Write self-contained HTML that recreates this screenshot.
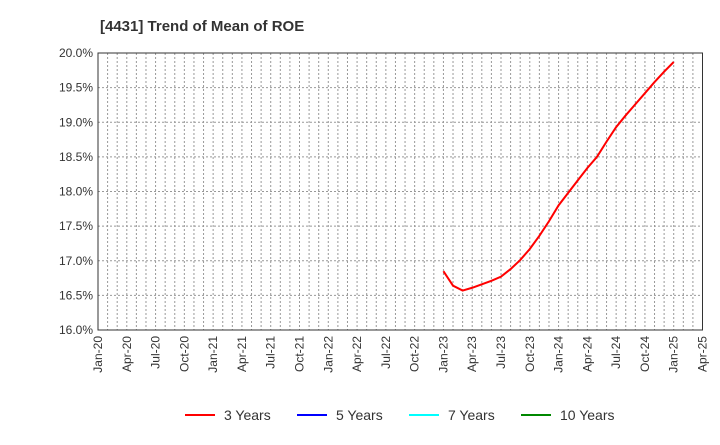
<!DOCTYPE html>
<html><head><meta charset="utf-8"><style>
body{margin:0;background:#fff;font-family:"Liberation Sans",sans-serif}
svg text{font-family:"Liberation Sans",sans-serif}
</style></head><body>
<svg id="c" width="720" height="440" xmlns="http://www.w3.org/2000/svg">
<text x="100" y="31" font-size="15" font-weight="bold" fill="#333">[4431]  Trend of Mean of ROE</text>
<g id="grid"></g><g id="axes"></g><g id="series"></g>
<rect x="98" y="53" width="604.5" height="277" fill="none" stroke="#333" stroke-width="1"/>
<g id="legend"></g>
</svg>
<script>
const xLabels=["Jan-20","Apr-20","Jul-20","Oct-20","Jan-21","Apr-21","Jul-21","Oct-21","Jan-22","Apr-22","Jul-22","Oct-22","Jan-23","Apr-23","Jul-23","Oct-23","Jan-24","Apr-24","Jul-24","Oct-24","Jan-25","Apr-25"];
const yTicks=[16.0,16.5,17.0,17.5,18.0,18.5,19.0,19.5,20.0];
const months3=[36,37,38,39,40,41,42,43,44,45,46,47,48,49,50,51,52,53,54,55,56,57,58,59,60];
const roe3=[16.85,16.64,16.57,16.61,16.66,16.71,16.77,16.88,17.01,17.17,17.36,17.57,17.8,17.98,18.16,18.34,18.5,18.72,18.93,19.1,19.26,19.42,19.58,19.73,19.87];
const L=98,R=702.5,T=53,B=330;
const X=m=>L+(R-L)*m/63, Y=v=>B-(B-T)*(v-16)/4;
const ns="http://www.w3.org/2000/svg";
function mk(p,t,a){const e=document.createElementNS(ns,t);for(const k in a)e.setAttribute(k,a[k]);p.appendChild(e);return e;}
const g=document.getElementById('grid'),ax=document.getElementById('axes'),s=document.getElementById('series'),lg=document.getElementById('legend');
for(let m=1;m<63;m++){const l=mk(g,'line',{x1:X(m),x2:X(m),y1:T,y2:B,stroke:'#999','stroke-dasharray':'2,2','stroke-width':1});

}
yTicks.forEach(v=>{const l=mk(g,'line',{x1:L,x2:R,y1:Y(v),y2:Y(v),stroke:'#999','stroke-dasharray':'2,2','stroke-width':1});


const t=mk(ax,'text',{x:L-5,y:Y(v)+4,'text-anchor':'end','font-size':12,fill:'#333'});t.textContent=v.toFixed(1)+'%';

});
xLabels.forEach((lab,i)=>{const x=X(i*3);const t=mk(ax,'text',{x:0,y:0,'text-anchor':'end','font-size':12,fill:'#333',transform:`translate(${x+4},336) rotate(-90)`});t.textContent=lab;

});
const p=mk(s,'polyline',{points:months3.map((m,i)=>X(m)+','+Y(roe3[i])).join(' '),fill:'none',stroke:'#f00','stroke-width':2});


[["3 Years","#f00",185],["5 Years","#00f",297],["7 Years","#0ff",409],["10 Years","#080",521]].forEach(([n,c,x])=>{
const gg=mk(lg,'g',{});


mk(gg,'line',{x1:x,x2:x+30,y1:415,y2:415,stroke:c,'stroke-width':2});
const t=mk(gg,'text',{x:x+39,y:420,'font-size':14,fill:'#333'});t.textContent=n;});
</script>
</body></html>
